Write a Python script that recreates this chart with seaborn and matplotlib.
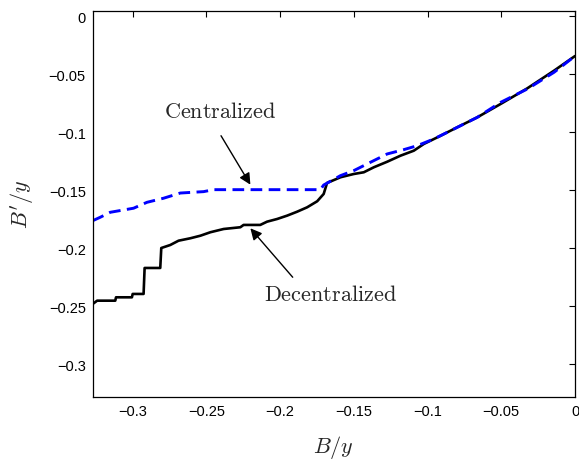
import matplotlib
matplotlib.use('Agg')
import matplotlib.pyplot as plt
import pandas as pd
import seaborn as sns

# Decentralized curve
dec_x = [-0.3269, -0.3240, -0.3117, -0.3112, -0.3004, -0.2999, -0.2925, -0.2918,
         -0.2812, -0.2805, -0.2744, -0.2688, -0.2608, -0.2540, -0.2472, -0.2382,
         -0.2269, -0.2247, -0.2134, -0.2088, -0.2020, -0.1952, -0.1884, -0.1816,
         -0.1748, -0.1704, -0.1681, -0.1590, -0.1500, -0.1432, -0.1364, -0.1273,
         -0.1183, -0.1093, -0.1025, -0.0911, -0.0798, -0.0662, -0.0504, -0.0323,
         -0.0142, 0.0]
dec_y = [-0.2478, -0.2450, -0.2450, -0.2421, -0.2421, -0.2392, -0.2392, -0.2168,
         -0.2168, -0.1996, -0.1970, -0.1933, -0.1912, -0.1890, -0.1860, -0.1832,
         -0.1817, -0.1797, -0.1797, -0.1769, -0.1746, -0.1717, -0.1683, -0.1645,
         -0.1593, -0.1530, -0.1435, -0.1386, -0.1358, -0.1343, -0.1300, -0.1252,
         -0.1200, -0.1157, -0.1099, -0.1028, -0.0955, -0.0869, -0.0754, -0.0619,
         -0.0467, -0.0341]

# Centralized curve
cen_x = [-0.3269, -0.3219, -0.3151, -0.2993, -0.2902, -0.2790, -0.2676, -0.2518,
         -0.2450, -0.1726, -0.1704, -0.1590, -0.1500, -0.1387, -0.1273, -0.1161,
         -0.1070, -0.0957, -0.0821, -0.0662, -0.0504, -0.0323, -0.0142, 0.0]
cen_y = [-0.1760, -0.1731, -0.1688, -0.1653, -0.1602, -0.1567, -0.1522, -0.1510,
         -0.1493, -0.1493, -0.1453, -0.1372, -0.1329, -0.1257, -0.1185, -0.1148,
         -0.1114, -0.1056, -0.0970, -0.0869, -0.0740, -0.0625, -0.0481, -0.0341]

x_ticks = [-0.3, -0.25, -0.2, -0.15, -0.1, -0.05, 0]
x_labels = ['\u22120.3', '\u22120.25', '\u22120.2', '\u22120.15', '\u22120.1', '\u22120.05', '0']
y_ticks = [0, -0.05, -0.1, -0.15, -0.2, -0.25, -0.3]
y_labels = ['0', '\u22120.05', '\u22120.1', '\u22120.15', '\u22120.2', '\u22120.25', '\u22120.3']

sns.set_style('white')
plt.rcParams['font.family'] = ['Liberation Sans', 'DejaVu Sans']
plt.rcParams['mathtext.fontset'] = 'cm'

fig = plt.figure(figsize=(5.79, 4.6), dpi=100)
ax = fig.add_axes([0.1601, 0.1354, 0.8330, 0.8392])

df_dec = pd.DataFrame({'x': dec_x, 'y': dec_y})
df_cen = pd.DataFrame({'x': cen_x, 'y': cen_y})
sns.lineplot(data=df_dec, x='x', y='y', sort=False, estimator=None, color='black',
             linewidth=1.9, ax=ax)
sns.lineplot(data=df_cen, x='x', y='y', sort=False, estimator=None, color='#0000ff',
             linewidth=2.1, ax=ax)
ax.lines[1].set_dashes((4, 2.2))

ax.set_xlim(-0.327, 0)
ax.set_ylim(-0.3278, 0.005)
ax.set_xticks(x_ticks)
ax.set_xticklabels(x_labels)
ax.set_yticks(y_ticks)
ax.set_yticklabels(y_labels)
ax.tick_params(direction='in', top=True, right=True, length=4, width=0.8,
               labelsize=10.5, colors='black', pad=5)
for s in ax.spines.values():
    s.set_color('black')
    s.set_linewidth(0.9)

ax.set_xlabel(r'$B/y$', fontsize=16, labelpad=11)
ax.set_ylabel(r"$B'/y$", fontsize=16, labelpad=9)

# labels and arrows
ax.text(-0.2404, -0.0815, r'$\mathrm{Centralized}$', ha='center', va='center', fontsize=16)
ax.text(-0.1660, -0.2400, r'$\mathrm{Decentralized}$', ha='center', va='center', fontsize=16)
arrow = dict(arrowstyle='-|>', color='black', lw=1.0, shrinkA=0, shrinkB=0,
             mutation_scale=17)
ax.annotate('', xy=(-0.2201, -0.1450), xytext=(-0.2400, -0.1028), arrowprops=arrow)
ax.annotate('', xy=(-0.2201, -0.1826), xytext=(-0.1914, -0.2248), arrowprops=arrow)

fig.savefig('out.png', dpi=100)
